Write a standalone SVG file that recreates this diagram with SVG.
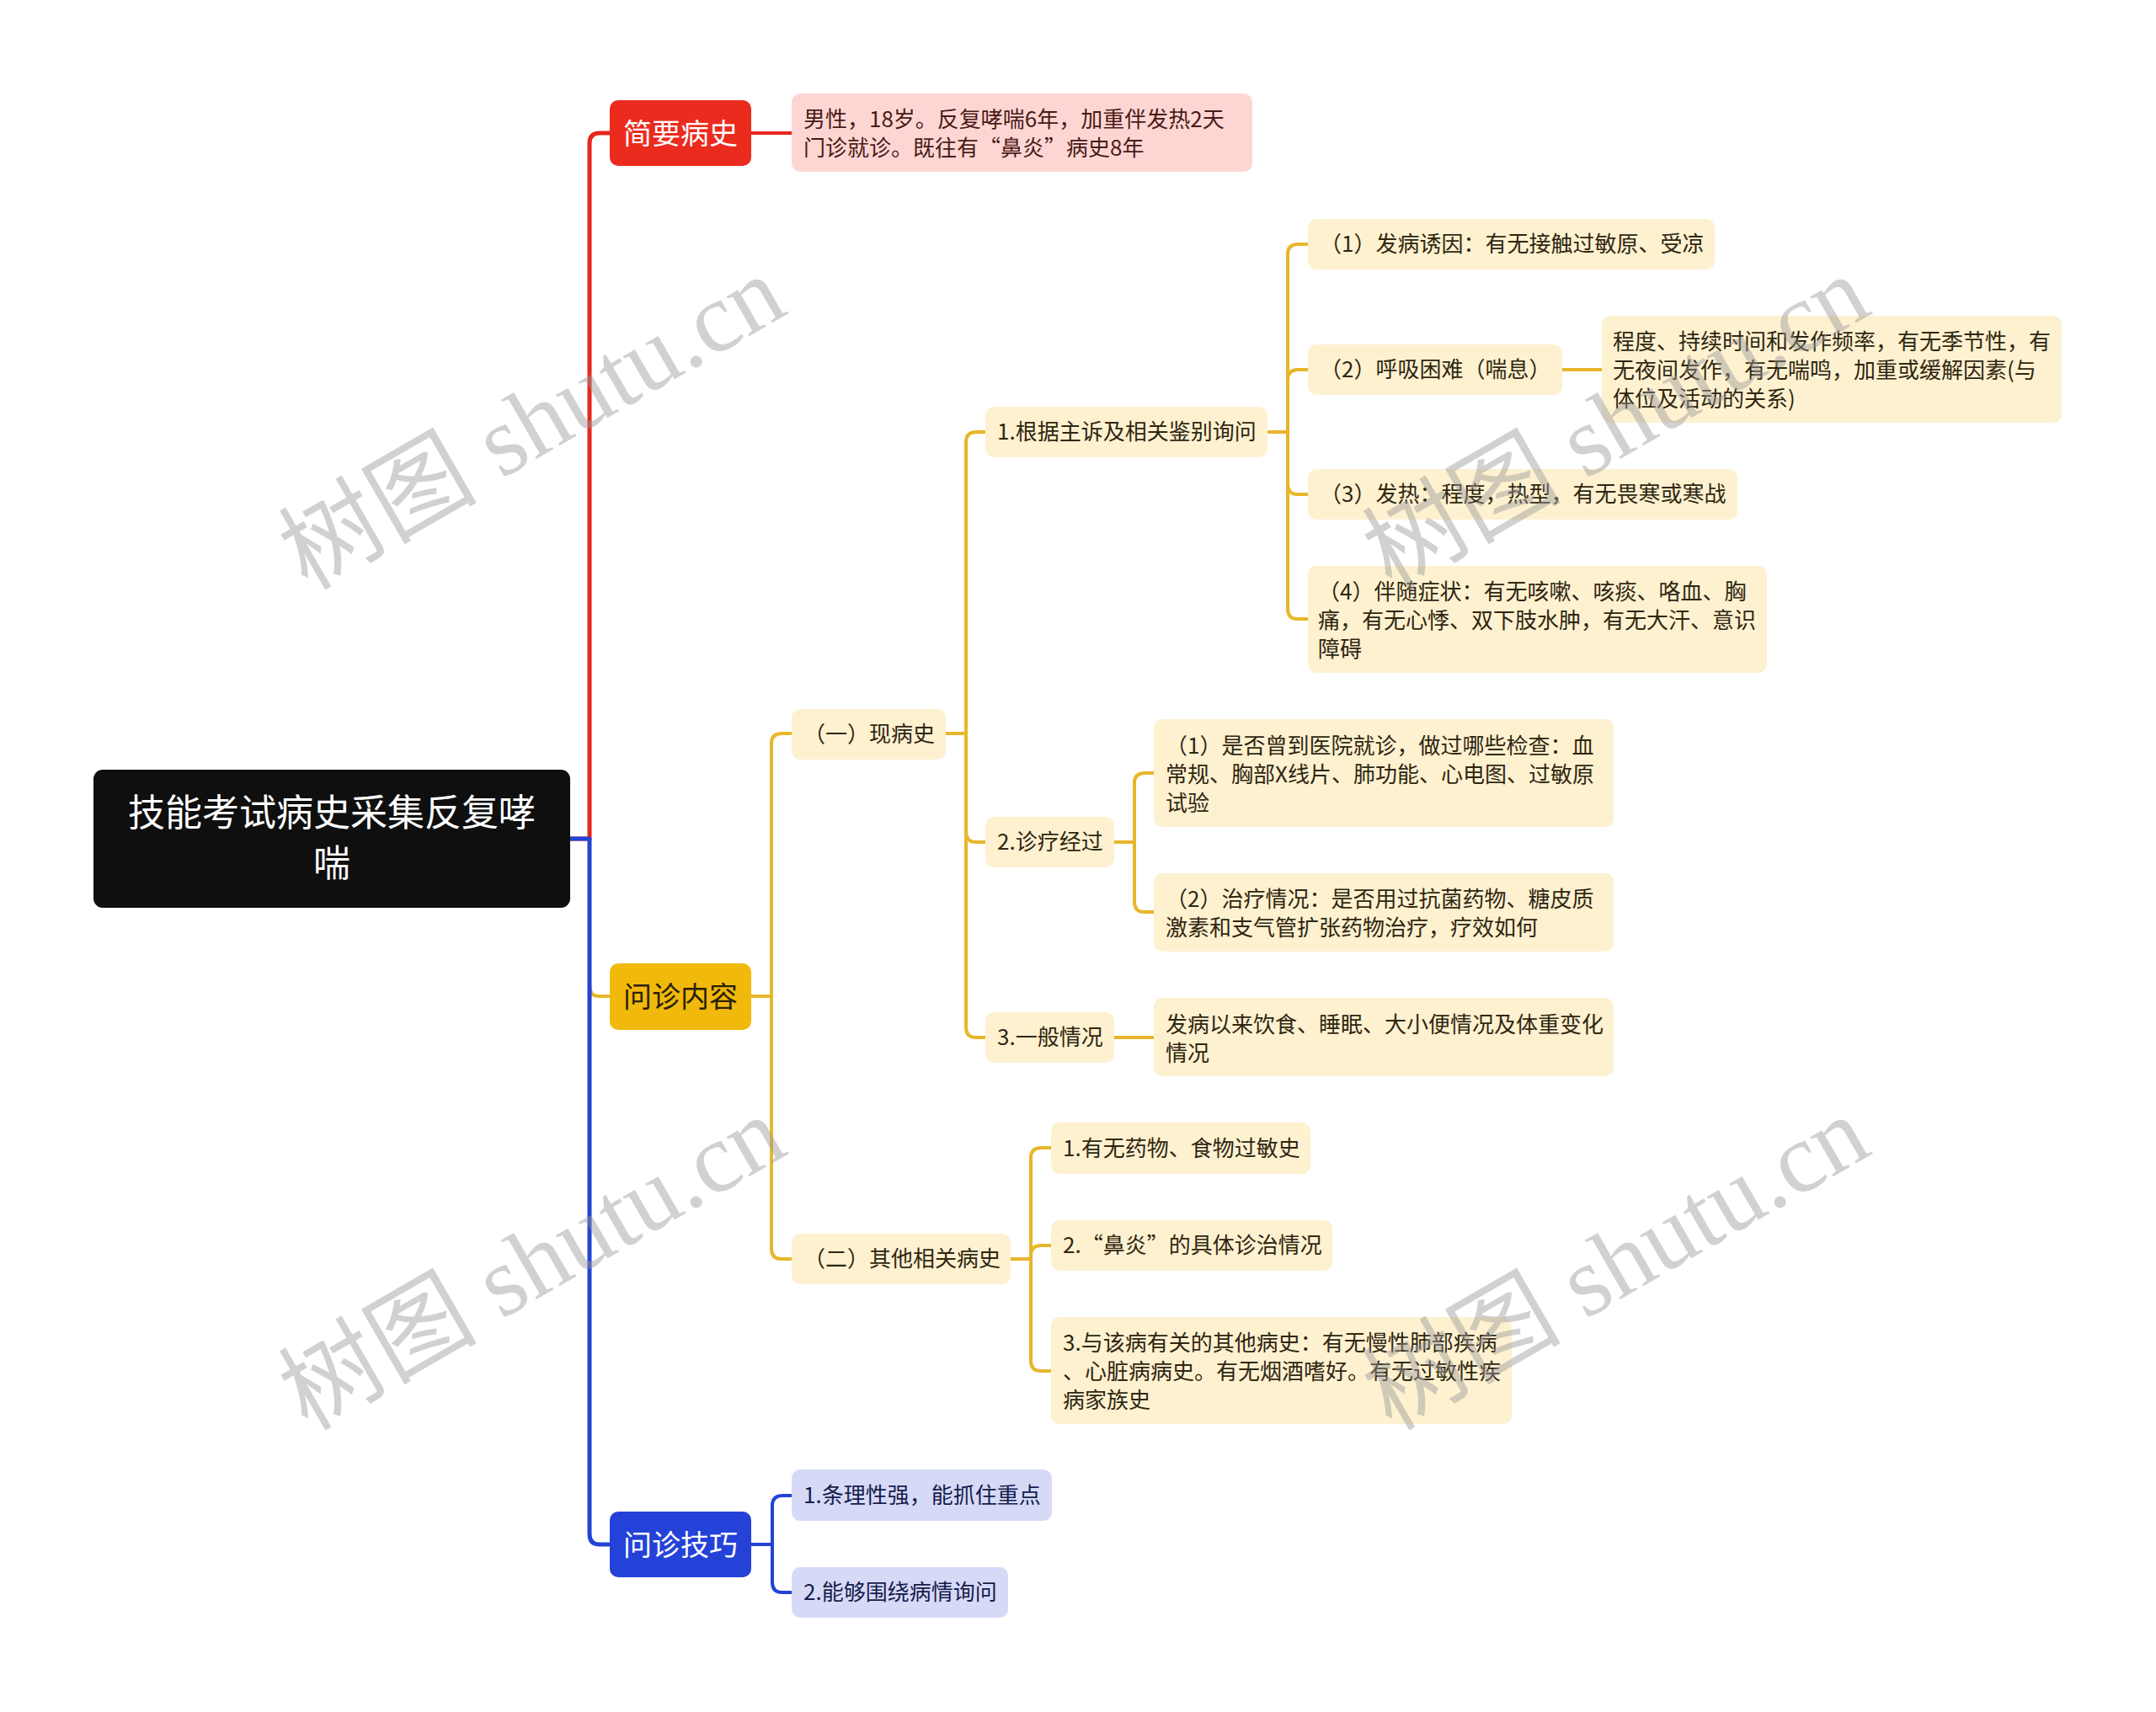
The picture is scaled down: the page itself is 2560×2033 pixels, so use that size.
<svg xmlns="http://www.w3.org/2000/svg" width="2560" height="2033" viewBox="0 0 2560 2033">
<style>
text{font-family:"Noto Sans CJK SC","Noto Sans",sans-serif;}
.t26{font-size:26px;}
.lY{fill:#FDF1D0;}
.lB{fill:#D6DAF7;}
.tY{fill:#2F2610;}
.tB{fill:#161C4C;}
.c{fill:none;stroke-linecap:round;stroke-linejoin:round;}
.cy{stroke:#E8B62A;stroke-width:4;}
.cr{stroke:#E6271C;}
.cb{stroke:#2443D6;}
.wm{font-family:"Liberation Serif","Noto Sans CJK SC",serif;font-size:118px;fill:#9A9A9A;fill-opacity:0.45;}
</style>
<rect width="2560" height="2033" fill="#FFFFFF"/>
<g id="connectors">
<path class="c cy" stroke-width="5" d="M700,996 V1171 Q700,1183 712,1183 H724"/>
<path class="c cr" stroke-width="5" d="M677,996 H700 V170 Q700,158 712,158 H724"/>
<path class="c cb" stroke-width="5" d="M677,996 H700 V1822 Q700,1834 712,1834 H724"/>
<path class="c cr" stroke-width="4" d="M892,158 H940"/>
<path class="c cy" d="M892,1183 H916 M916,1183 V883 Q916,871 928,871 H940 M916,1183 V1483 Q916,1495 928,1495 H940"/>
<path class="c cy" d="M1123,871 H1147 M1147,871 V525 Q1147,513 1159,513 H1170 M1147,871 V988 Q1147,1000 1159,1000 H1170 M1147,871 V1220 Q1147,1232 1159,1232 H1170"/>
<path class="c cy" d="M1505,513 H1529 M1529,513 V302 Q1529,290 1541,290 H1553 M1529,513 V451 Q1529,439 1541,439 H1553 M1529,513 V575 Q1529,587 1541,587 H1553 M1529,513 V723 Q1529,735 1541,735 H1553"/>
<path class="c cy" d="M1855,439 H1902"/>
<path class="c cy" d="M1323,1000 H1347 M1347,1000 V930 Q1347,918 1359,918 H1370 M1347,1000 V1071 Q1347,1083 1359,1083 H1370"/>
<path class="c cy" d="M1323,1232 H1370"/>
<path class="c cy" d="M1200,1495 H1224 M1224,1495 V1375 Q1224,1363 1236,1363 H1248 M1224,1495 V1491 Q1224,1479 1236,1479 H1248 M1224,1495 V1616 Q1224,1628 1236,1628 H1248"/>
<path class="c cb" stroke-width="4" d="M892,1834 H917 M917,1834 V1788 Q917,1776 929,1776 H940 M917,1834 V1879 Q917,1891 929,1891 H940"/>
</g>
<g id="root">
<rect x="111" y="914" width="566" height="164" rx="11" fill="#0F0F0F"/>
<text x="394" y="981" font-size="44" fill="#FFFFFF" text-anchor="middle">技能考试病史采集反复哮</text>
<text x="394" y="1041" font-size="44" fill="#FFFFFF" text-anchor="middle">喘</text>
</g>
<g id="n-jianyao">
<rect x="724" y="119" width="168" height="78" rx="10" fill="#EB2B1E"/>
<text x="808" y="171" font-size="34" fill="#FFFFFF" text-anchor="middle">简要病史</text>
</g>
<g id="n-desc">
<rect x="940" y="111" width="547" height="93" rx="10" fill="#FDD6D4"/>
<text class="t26" x="954" y="151" fill="#4A1A15">男性，18岁。反复哮喘6年，加重伴发热2天</text>
<text class="t26" x="954" y="185" fill="#4A1A15">门诊就诊。既往有“鼻炎”病史8年</text>
</g>
<g id="n-wenzhen">
<rect x="724" y="1144" width="168" height="79" rx="10" fill="#F0B90C"/>
<text x="808" y="1196" font-size="34" fill="#2B2106" text-anchor="middle">问诊内容</text>
</g>
<g id="n-jiqiao">
<rect x="724" y="1795" width="168" height="78" rx="10" fill="#2442D8"/>
<text x="808" y="1847" font-size="34" fill="#FFFFFF" text-anchor="middle">问诊技巧</text>
</g>
<g id="n-xianbingshi">
<rect class="lY" x="940" y="842" width="183" height="60" rx="10"/>
<text class="t26 tY" x="954" y="881">（一）现病史</text>
</g>
<g id="n-qita">
<rect class="lY" x="940" y="1465" width="260" height="60" rx="10"/>
<text class="t26 tY" x="954" y="1504">（二）其他相关病史</text>
</g>
<g id="n-genju">
<rect class="lY" x="1170" y="483" width="335" height="60" rx="10"/>
<text class="t26 tY" x="1184" y="522">1.根据主诉及相关鉴别询问</text>
</g>
<g id="n-zhenliao">
<rect class="lY" x="1170" y="970" width="153" height="60" rx="10"/>
<text class="t26 tY" x="1184" y="1009">2.诊疗经过</text>
</g>
<g id="n-yiban">
<rect class="lY" x="1170" y="1202" width="153" height="60" rx="10"/>
<text class="t26 tY" x="1184" y="1241">3.一般情况</text>
</g>
<g id="n-youyin">
<rect class="lY" x="1553" y="260" width="483" height="60" rx="10"/>
<text class="t26 tY" x="1567" y="299">（1）发病诱因：有无接触过敏原、受凉</text>
</g>
<g id="n-huxi">
<rect class="lY" x="1553" y="409" width="302" height="60" rx="10"/>
<text class="t26 tY" x="1567" y="448">（2）呼吸困难（喘息）</text>
</g>
<g id="n-huxi-detail">
<rect class="lY" x="1902" y="375" width="546" height="127" rx="10"/>
<text class="t26 tY" x="1915" y="415">程度、持续时间和发作频率，有无季节性，有</text>
<text class="t26 tY" x="1915" y="449">无夜间发作，有无喘鸣，加重或缓解因素(与</text>
<text class="t26 tY" x="1915" y="483">体位及活动的关系)</text>
</g>
<g id="n-fare">
<rect class="lY" x="1553" y="557" width="510" height="60" rx="10"/>
<text class="t26 tY" x="1567" y="596">（3）发热：程度，热型，有无畏寒或寒战</text>
</g>
<g id="n-bansui">
<rect class="lY" x="1553" y="672" width="545" height="127" rx="10"/>
<text class="t26 tY" x="1565" y="712">（4）伴随症状：有无咳嗽、咳痰、咯血、胸</text>
<text class="t26 tY" x="1565" y="746">痛，有无心悸、双下肢水肿，有无大汗、意识</text>
<text class="t26 tY" x="1565" y="780">障碍</text>
</g>
<g id="n-jiuzhen">
<rect class="lY" x="1370" y="854" width="546" height="128" rx="10"/>
<text class="t26 tY" x="1384" y="895">（1）是否曾到医院就诊，做过哪些检查：血</text>
<text class="t26 tY" x="1384" y="929">常规、胸部X线片、肺功能、心电图、过敏原</text>
<text class="t26 tY" x="1384" y="963">试验</text>
</g>
<g id="n-zhiliao">
<rect class="lY" x="1370" y="1037" width="546" height="93" rx="10"/>
<text class="t26 tY" x="1384" y="1077">（2）治疗情况：是否用过抗菌药物、糖皮质</text>
<text class="t26 tY" x="1384" y="1111">激素和支气管扩张药物治疗，疗效如何</text>
</g>
<g id="n-yiban-detail">
<rect class="lY" x="1370" y="1185" width="546" height="93" rx="10"/>
<text class="t26 tY" x="1384" y="1226">发病以来饮食、睡眠、大小便情况及体重变化</text>
<text class="t26 tY" x="1384" y="1260">情况</text>
</g>
<g id="n-guomin">
<rect class="lY" x="1248" y="1333" width="308" height="61" rx="10"/>
<text class="t26 tY" x="1262" y="1373">1.有无药物、食物过敏史</text>
</g>
<g id="n-biyan">
<rect class="lY" x="1248" y="1449" width="334" height="60" rx="10"/>
<text class="t26 tY" x="1262" y="1488">2.“鼻炎”的具体诊治情况</text>
</g>
<g id="n-qitabingshi">
<rect class="lY" x="1248" y="1564" width="547" height="127" rx="10"/>
<text class="t26 tY" x="1262" y="1604">3.与该病有关的其他病史：有无慢性肺部疾病</text>
<text class="t26 tY" x="1262" y="1638">、心脏病病史。有无烟酒嗜好。有无过敏性疾</text>
<text class="t26 tY" x="1262" y="1672">病家族史</text>
</g>
<g id="n-tiaoli">
<rect class="lB" x="940" y="1745" width="309" height="61" rx="10"/>
<text class="t26 tB" x="954" y="1785">1.条理性强，能抓住重点</text>
</g>
<g id="n-weirao">
<rect class="lB" x="940" y="1861" width="257" height="60" rx="10"/>
<text class="t26 tB" x="954" y="1900">2.能够围绕病情询问</text>
</g>
<g id="watermarks">
<text class="wm" transform="translate(365,702) rotate(-30)">树图 shutu.cn</text>
<text class="wm" transform="translate(365,1700) rotate(-30)">树图 shutu.cn</text>
<text class="wm" transform="translate(1652,702) rotate(-30)">树图 shutu.cn</text>
<text class="wm" transform="translate(1652,1700) rotate(-30)">树图 shutu.cn</text>
</g>
</svg>
